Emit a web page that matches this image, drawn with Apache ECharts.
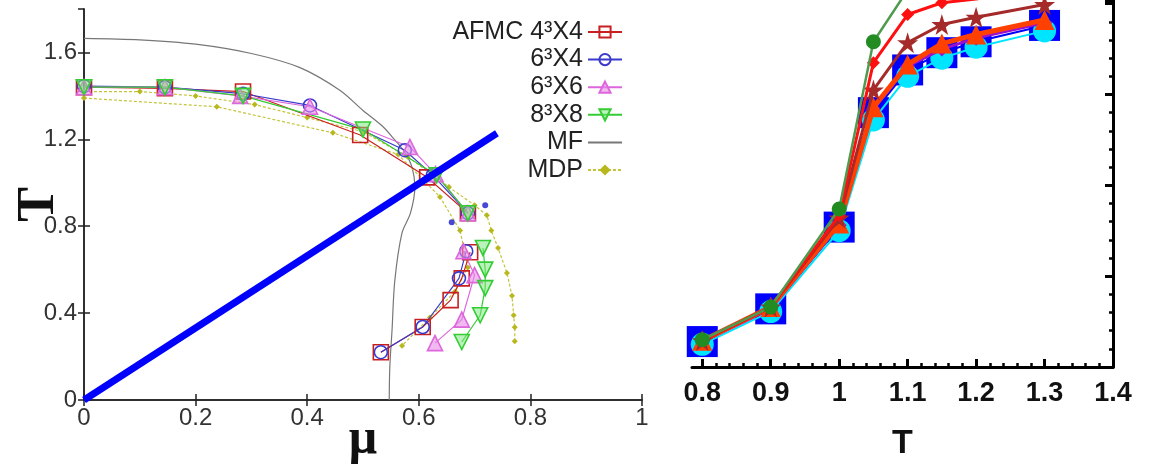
<!DOCTYPE html>
<html><head><meta charset="utf-8">
<script src="https://cdn.jsdelivr.net/npm/echarts@6/dist/echarts.min.js"></script>
<style>html,body{margin:0;padding:0;background:#fff}#c{width:1152px;height:467px}</style>
</head><body><div id="c"></div>
<script>
// ---------- Left panel: phase diagram (mu, T) ----------
const legendNames = ['AFMC 4³X4', '6³X4', '6³X6', '8³X8', 'MF', 'MDP'];
const afmc4x4Upper = [[0,1.44],[0.145,1.435],[0.285,1.42],[0.495,1.22],[0.615,1.025],[0.688,0.86]];
const afmc4x4Lower = [[0.692,0.68],[0.677,0.56],[0.657,0.46],[0.607,0.336],[0.532,0.22]];
const l6x4Upper = [[0,1.445],[0.145,1.44],[0.285,1.41],[0.405,1.356],[0.575,1.15],[0.625,1.035],[0.688,0.86]];
const l6x4Lower = [[0.685,0.685],[0.672,0.56],[0.607,0.336],[0.532,0.22]];
const l6x4ErrEnds = [[0.719,0.897],[0.659,0.818]];
const l6x6Upper = [[0,1.44],[0.145,1.44],[0.28,1.40],[0.405,1.35],[0.584,1.165],[0.63,1.04],[0.688,0.86]];
const l6x6Lower = [[0.68,0.685],[0.70,0.575],[0.677,0.37],[0.629,0.262]];
const l8x8Upper = [[0,1.44],[0.145,1.44],[0.285,1.40],[0.50,1.245],[0.632,1.035],[0.688,0.86]];
const l8x8Lower = [[0.715,0.70],[0.719,0.60],[0.719,0.515],[0.71,0.39],[0.677,0.267]];
const mfCurve = [[0,1.665],[0.1,1.658],[0.2,1.638],[0.3,1.595],[0.387,1.53],[0.459,1.425],[0.5,1.333],[0.535,1.26],[0.556,1.2],[0.575,1.14],[0.588,1.07],[0.593,0.98],[0.585,0.86],[0.57,0.77],[0.557,0.55],[0.552,0.32],[0.548,0.15],[0.547,0]];
const mdpOuter = [[0,1.42],[0.1,1.42],[0.2,1.40],[0.306,1.36],[0.40,1.30],[0.5,1.235],[0.58,1.12],[0.654,0.98],[0.70,0.897],[0.722,0.85],[0.73,0.78],[0.742,0.70],[0.758,0.585],[0.767,0.48],[0.77,0.39],[0.772,0.335],[0.772,0.27]];
const mdpInner = [[0,1.39],[0.238,1.35],[0.446,1.23],[0.563,1.13],[0.638,0.935],[0.674,0.78],[0.688,0.61],[0.665,0.5],[0.62,0.38],[0.57,0.25]];
const blueOverlayLine = [[0,0],[0.74,1.228]];

// ---------- Right panel: cropped curves vs T ----------
const rightT = [0.8, 0.9, 1.0, 1.05, 1.1, 1.15, 1.2, 1.3];
const rBlue   = [0.028, 0.064, 0.154, 0.280, 0.327, 0.346, 0.358, 0.376];
const rCyan   = [0.025, 0.061, 0.150, 0.272, 0.320, 0.340, 0.352, 0.370];
const rPurple = [0.028, 0.064, 0.156, 0.284, 0.331, 0.350, 0.362, 0.379];
const rOrange = [0.029, 0.066, 0.158, 0.286, 0.333, 0.356, 0.366, 0.382];
const rBrown  = [0.029, 0.066, 0.164, 0.305, 0.357, 0.377, 0.385, 0.399];
const rRed    = [0.029, 0.066, 0.167, 0.335, 0.388, 0.401, 0.405, 0.420];
const rightTGreen = [0.8, 0.9, 1.0, 1.05, 1.1];
const rGreen  = [0.030, 0.066, 0.174, 0.358, 0.415];
const rightXLabels = [0.8, 0.9, 1, 1.1, 1.2, 1.3, 1.4];

const minorX = [];
for (let i = 41; i <= 70; i++) { const v = +(i * 0.02).toFixed(2); if (rightXLabels.indexOf(v) < 0) minorX.push(v); }

const pair = (xs, ys) => xs.map((x, i) => [x, ys[i]]);

const chart = echarts.init(document.getElementById('c'));
const axisCol = '#222';
const lblStyle = { fontFamily: 'Liberation Sans', fontSize: 24, color: '#333' };

function leftLine(name, data, color, symbol, fill, size, extra) {
  return Object.assign({
    type: 'line', name, data, xAxisIndex: 0, yAxisIndex: 0,
    symbol, symbolSize: size, showSymbol: true,
    lineStyle: { color, width: 1.2 },
    itemStyle: { color: fill, borderColor: color, borderWidth: 1.6 },
    animation: false, z: 3
  }, extra || {});
}
function rightLine(data, color, symbol, size, lw, lineCol, z) {
  return {
    type: 'line', data, xAxisIndex: 2, yAxisIndex: 2,
    symbol, symbolSize: size, showSymbol: true, clip: true,
    lineStyle: { color: lineCol || color, width: lw },
    itemStyle: { color },
    animation: false, z
  };
}
const star = 'path://M50,0 L61,35 L98,35 L68,57 L79,91 L50,70 L21,91 L32,57 L2,35 L39,35 Z';

const legendData = legendNames.map(n => n === 'MF'
  ? { name: n, itemStyle: { color: 'rgba(0,0,0,0)', borderColor: 'rgba(0,0,0,0)', opacity: 0 } }
  : { name: n });

const option = {
  backgroundColor: '#fff',
  animation: false,
  grid: [
    { left: 84, right: 510, top: 9, bottom: 67, outerBoundsMode: 'none', containLabel: false },
    { left: 692, right: 39, top: 0, bottom: 100, outerBoundsMode: 'none', containLabel: false }
  ],
  legend: {
    data: legendData, orient: 'vertical', align: 'right',
    right: 524, top: 14, itemWidth: 34, itemHeight: 14, itemGap: 1.6,
    textStyle: { fontFamily: 'Liberation Sans', fontSize: 25, color: '#222', lineHeight: 26 },
    selectedMode: false
  },
  xAxis: [
    { gridIndex: 0, type: 'value', min: 0, max: 1, interval: 0.2, position: 'bottom',
      name: 'μ', nameLocation: 'middle', nameGap: 15, nameMoveOverlap: false,
      nameTextStyle: { fontFamily: 'Liberation Serif', fontWeight: 'bold', fontSize: 50, color: '#111' },
      axisLine: { show: true, lineStyle: { color: axisCol, width: 1.5 } },
      axisTick: { inside: true, length: 6, lineStyle: { color: axisCol, width: 1.5 } },
      axisLabel: Object.assign({ margin: 6 }, lblStyle), splitLine: { show: false } },
    { gridIndex: 0, type: 'value', min: 0, max: 1, interval: 0.2, position: 'top',
      axisLine: { show: true, lineStyle: { color: axisCol, width: 1.5 } },
      axisTick: { inside: true, length: 6, lineStyle: { color: axisCol, width: 1.5 } },
      axisLabel: { show: false }, splitLine: { show: false } },
    { gridIndex: 1, type: 'value', min: 0.785, max: 1.4, position: 'bottom',
      name: 'T', nameLocation: 'middle', nameGap: 60, nameMoveOverlap: false,
      nameTextStyle: { fontFamily: 'Liberation Sans', fontWeight: 'bold', fontSize: 34, color: '#111' },
      axisLine: { show: true, lineStyle: { color: '#000', width: 3 } },
      axisTick: { inside: true, length: 8, customValues: rightXLabels, lineStyle: { color: '#000', width: 3 } },
      axisLabel: { customValues: rightXLabels, margin: 13, fontFamily: 'Liberation Sans', fontWeight: 'bold', fontSize: 27, color: '#111' },
      splitLine: { show: false } },
    { gridIndex: 1, type: 'value', min: 0.785, max: 1.4, position: 'bottom',
      axisLine: { show: false },
      axisTick: { inside: true, length: 4, customValues: minorX, lineStyle: { color: '#000', width: 2.5 } },
      axisLabel: { show: false }, splitLine: { show: false } }
  ],
  yAxis: [
    { gridIndex: 0, type: 'value', min: 0, max: 1.8, interval: 0.4, position: 'left',
      name: 'T', nameLocation: 'middle', nameGap: 18, nameRotate: 90, nameMoveOverlap: false,
      nameTextStyle: { fontFamily: 'Liberation Serif', fontWeight: 'bold', fontSize: 52, color: '#111' },
      axisLine: { show: true, lineStyle: { color: axisCol, width: 1.5 } },
      axisTick: { inside: true, length: 6, lineStyle: { color: axisCol, width: 1.5 } },
      axisLabel: Object.assign({ margin: 7, showMaxLabel: false }, lblStyle), splitLine: { show: false } },
    { gridIndex: 0, type: 'value', min: 0, max: 1.8, interval: 0.4, position: 'right',
      axisLine: { show: true, lineStyle: { color: axisCol, width: 1.5 } },
      axisTick: { inside: true, length: 6, lineStyle: { color: axisCol, width: 1.5 } },
      axisLabel: { show: false }, splitLine: { show: false } },
    { gridIndex: 1, type: 'value', min: 0, max: 0.404, interval: 0.1, position: 'right',
      axisLine: { show: true, lineStyle: { color: '#000', width: 3 } },
      axisTick: { inside: true, length: 8, lineStyle: { color: '#000', width: 3 } },
      minorTick: { show: true, splitNumber: 5, length: 4, lineStyle: { color: '#000', width: 2.5 } },
      axisLabel: { show: false }, splitLine: { show: false } }
  ],
  series: [
    leftLine('MF', mfCurve, '#777777', 'none', '#777777', 0, { smooth: 0.3, lineStyle: { color: '#777777', width: 1.2 }, z: 2 }),
    leftLine('MDP', mdpOuter, '#b8b81e', 'diamond', '#b8b81e', 6, { lineStyle: { color: '#c4c43a', width: 1.2, type: [3, 2] }, itemStyle: { color: '#b8b81e' }, z: 2 }),
    leftLine('MDP', mdpInner, '#b8b81e', 'diamond', '#b8b81e', 6, { lineStyle: { color: '#c4c43a', width: 1.2, type: [3, 2] }, itemStyle: { color: '#b8b81e' }, z: 2 }),
    leftLine('AFMC 4³X4', afmc4x4Upper, '#c82020', 'rect', 'rgba(255,255,255,0)', 15),
    leftLine('AFMC 4³X4', afmc4x4Lower, '#c82020', 'rect', 'rgba(255,255,255,0)', 15),
    leftLine('6³X4', l6x4Upper, '#3a3acc', 'circle', 'rgba(255,255,255,0)', 13),
    leftLine('6³X4', l6x4Lower, '#3a3acc', 'circle', 'rgba(255,255,255,0)', 13),
    { type: 'scatter', name: '6³X4', data: l6x4ErrEnds, xAxisIndex: 0, yAxisIndex: 0, symbol: 'circle', symbolSize: 6, itemStyle: { color: '#1a1acc' }, animation: false, z: 3 },
    leftLine('6³X6', l6x6Upper, '#dd66dd', 'triangle', 'rgba(230,140,230,0.6)', 15),
    leftLine('6³X6', l6x6Lower, '#dd66dd', 'triangle', 'rgba(230,140,230,0.6)', 15),
    leftLine('8³X8', l8x8Upper, '#33cc33', 'path://M0,0 L10,0 L5,9 Z', 'rgba(120,230,120,0.5)', 15),
    leftLine('8³X8', l8x8Lower, '#33cc33', 'path://M0,0 L10,0 L5,9 Z', 'rgba(120,230,120,0.5)', 15),
    { type: 'line', data: blueOverlayLine, xAxisIndex: 0, yAxisIndex: 0, symbol: 'none', lineStyle: { color: '#0000ff', width: 7 }, animation: false, z: 10 },

    rightLine(pair(rightT, rBlue), '#0000ff', 'rect', 31, 2, '#0000ff', 2),
    rightLine(pair(rightT, rCyan), '#00e5ff', 'circle', 23, 2, '#00e5ff', 3),
    rightLine(pair(rightT, rPurple), '#9a10d0', 'diamond', 15, 3, '#9a10d0', 4),
    rightLine(pair(rightT, rOrange), '#ff4000', 'triangle', 20, 5, '#ff4000', 5),
    rightLine(pair(rightT, rBrown), '#a52a2a', star, 21, 3, '#a52a2a', 6),
    rightLine(pair(rightT, rRed), '#ff1010', 'diamond', 13, 3, '#ff1010', 7),
    rightLine(pair(rightTGreen, rGreen), '#228b22', 'circle', 15, 2.5, '#4f9a4f', 8)
  ]
};
chart.setOption(option);
</script></body></html>
